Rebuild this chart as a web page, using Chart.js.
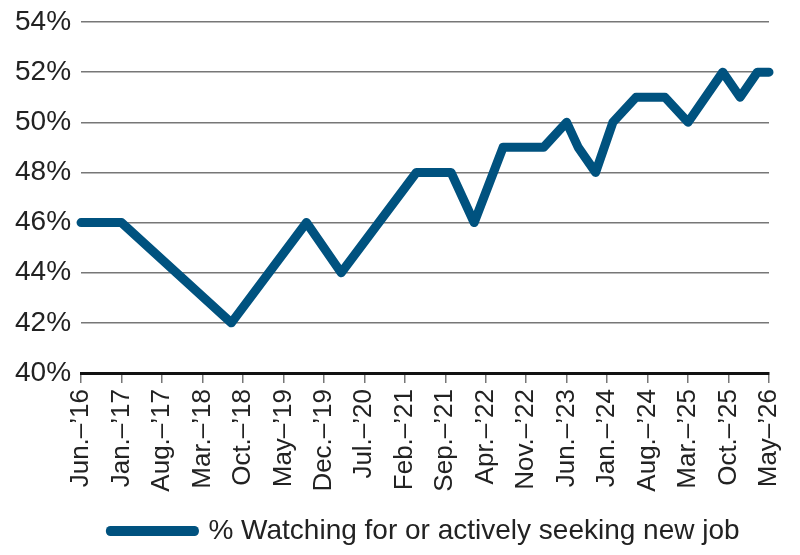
<!DOCTYPE html>
<html>
<head>
<meta charset="utf-8">
<script src="https://cdn.jsdelivr.net/npm/chart.js@4/dist/chart.umd.min.js"></script>
<style>
  html, body { margin: 0; padding: 0; background: #fff; }
  #wrap { width: 800px; height: 555px; position: relative; }
</style>
</head>
<body>
<div id="wrap"><canvas id="jobChart"></canvas></div>
<script>
// Tick labels, one every 7 months starting Jun. 2016
const tickLabels = ['Jun.–’16', 'Jan.–’17', 'Aug.–’17', 'Mar.–’18', 'Oct.–’18', 'May–’19',
  'Dec.–’19', 'Jul.–’20', 'Feb.–’21', 'Sep.–’21', 'Apr.–’22', 'Nov.–’22',
  'Jun.–’23', 'Jan.–’24', 'Aug.–’24', 'Mar.–’25', 'Oct.–’25', 'May–’26'];

// Survey points: months since Jun. 2016, and share in %
const monthOffsets = [0, 7, 26, 39, 45, 58, 64, 68, 73, 80, 84, 86, 89, 92, 96, 101, 105, 111, 114, 117, 119];
const watchingPct = [46, 46, 42, 46, 44, 48, 48, 46, 49, 49, 50, 49, 48, 50, 51, 51, 50, 52, 51, 52, 52];

const seriesLabel = '% Watching for or actively seeking new job';
const lineColor = '#00527f';
const fontFamily = '"Liberation Sans", Arial, sans-serif';

const points = monthOffsets.map((m, i) => ({ x: m, y: watchingPct[i] }));

const ctx = document.getElementById('jobChart').getContext('2d');
const jobChart = new Chart(ctx, {
  type: 'line',
  data: {
    datasets: [{
      label: seriesLabel,
      data: points,
      borderColor: lineColor,
      backgroundColor: lineColor,
      borderWidth: 9,
      borderJoinStyle: 'round',
      borderCapStyle: 'round',
      pointRadius: 0,
      tension: 0,
      clip: 10
    }]
  },
  options: {
    responsive: true,
    maintainAspectRatio: false,
    animation: false,
    layout: { padding: { top: 22, left: 5, right: 31, bottom: 0 } },
    scales: {
      x: {
        type: 'linear',
        min: 0,
        max: 119,
        grid: {
          drawOnChartArea: false,
          drawTicks: true,
          tickLength: 10,
          color: '#777',
          lineWidth: 1.5
        },
        border: { display: true, color: '#111', width: 3 },
        ticks: {
          stepSize: 7,
          autoSkip: false,
          maxRotation: 90,
          minRotation: 90,
          padding: 6,
          color: '#222',
          font: { family: fontFamily, size: 26 },
          callback: function(value) {
            return tickLabels[Math.round(value / 7)];
          }
        },
        afterBuildTicks: function(axis) {
          axis.ticks = tickLabels.map((t, i) => ({ value: i * 7 }));
        },
        afterFit: function(axis) {
          axis.height = 138;
          axis.paddingRight = 0;
          axis.paddingLeft = 0;
        }
      },
      y: {
        min: 40,
        max: 54,
        grid: { color: '#777', lineWidth: 1.5, drawTicks: false },
        border: { display: false },
        ticks: {
          stepSize: 2,
          padding: 10,
          color: '#222',
          font: { family: fontFamily, size: 28 },
          callback: function(value) { return value + '%'; }
        },
        afterFit: function(axis) {
          axis.paddingTop = 0;
          axis.paddingBottom = 0;
        }
      }
    },
    plugins: {
      legend: {
        position: 'bottom',
        fullSize: false,
        labels: {
          boxWidth: 84,
          boxHeight: 1,
          color: '#222',
          padding: 6,
          font: { family: fontFamily, size: 28 }
        }
      },
      tooltip: { enabled: false }
    }
  }
});
</script>
</body>
</html>
